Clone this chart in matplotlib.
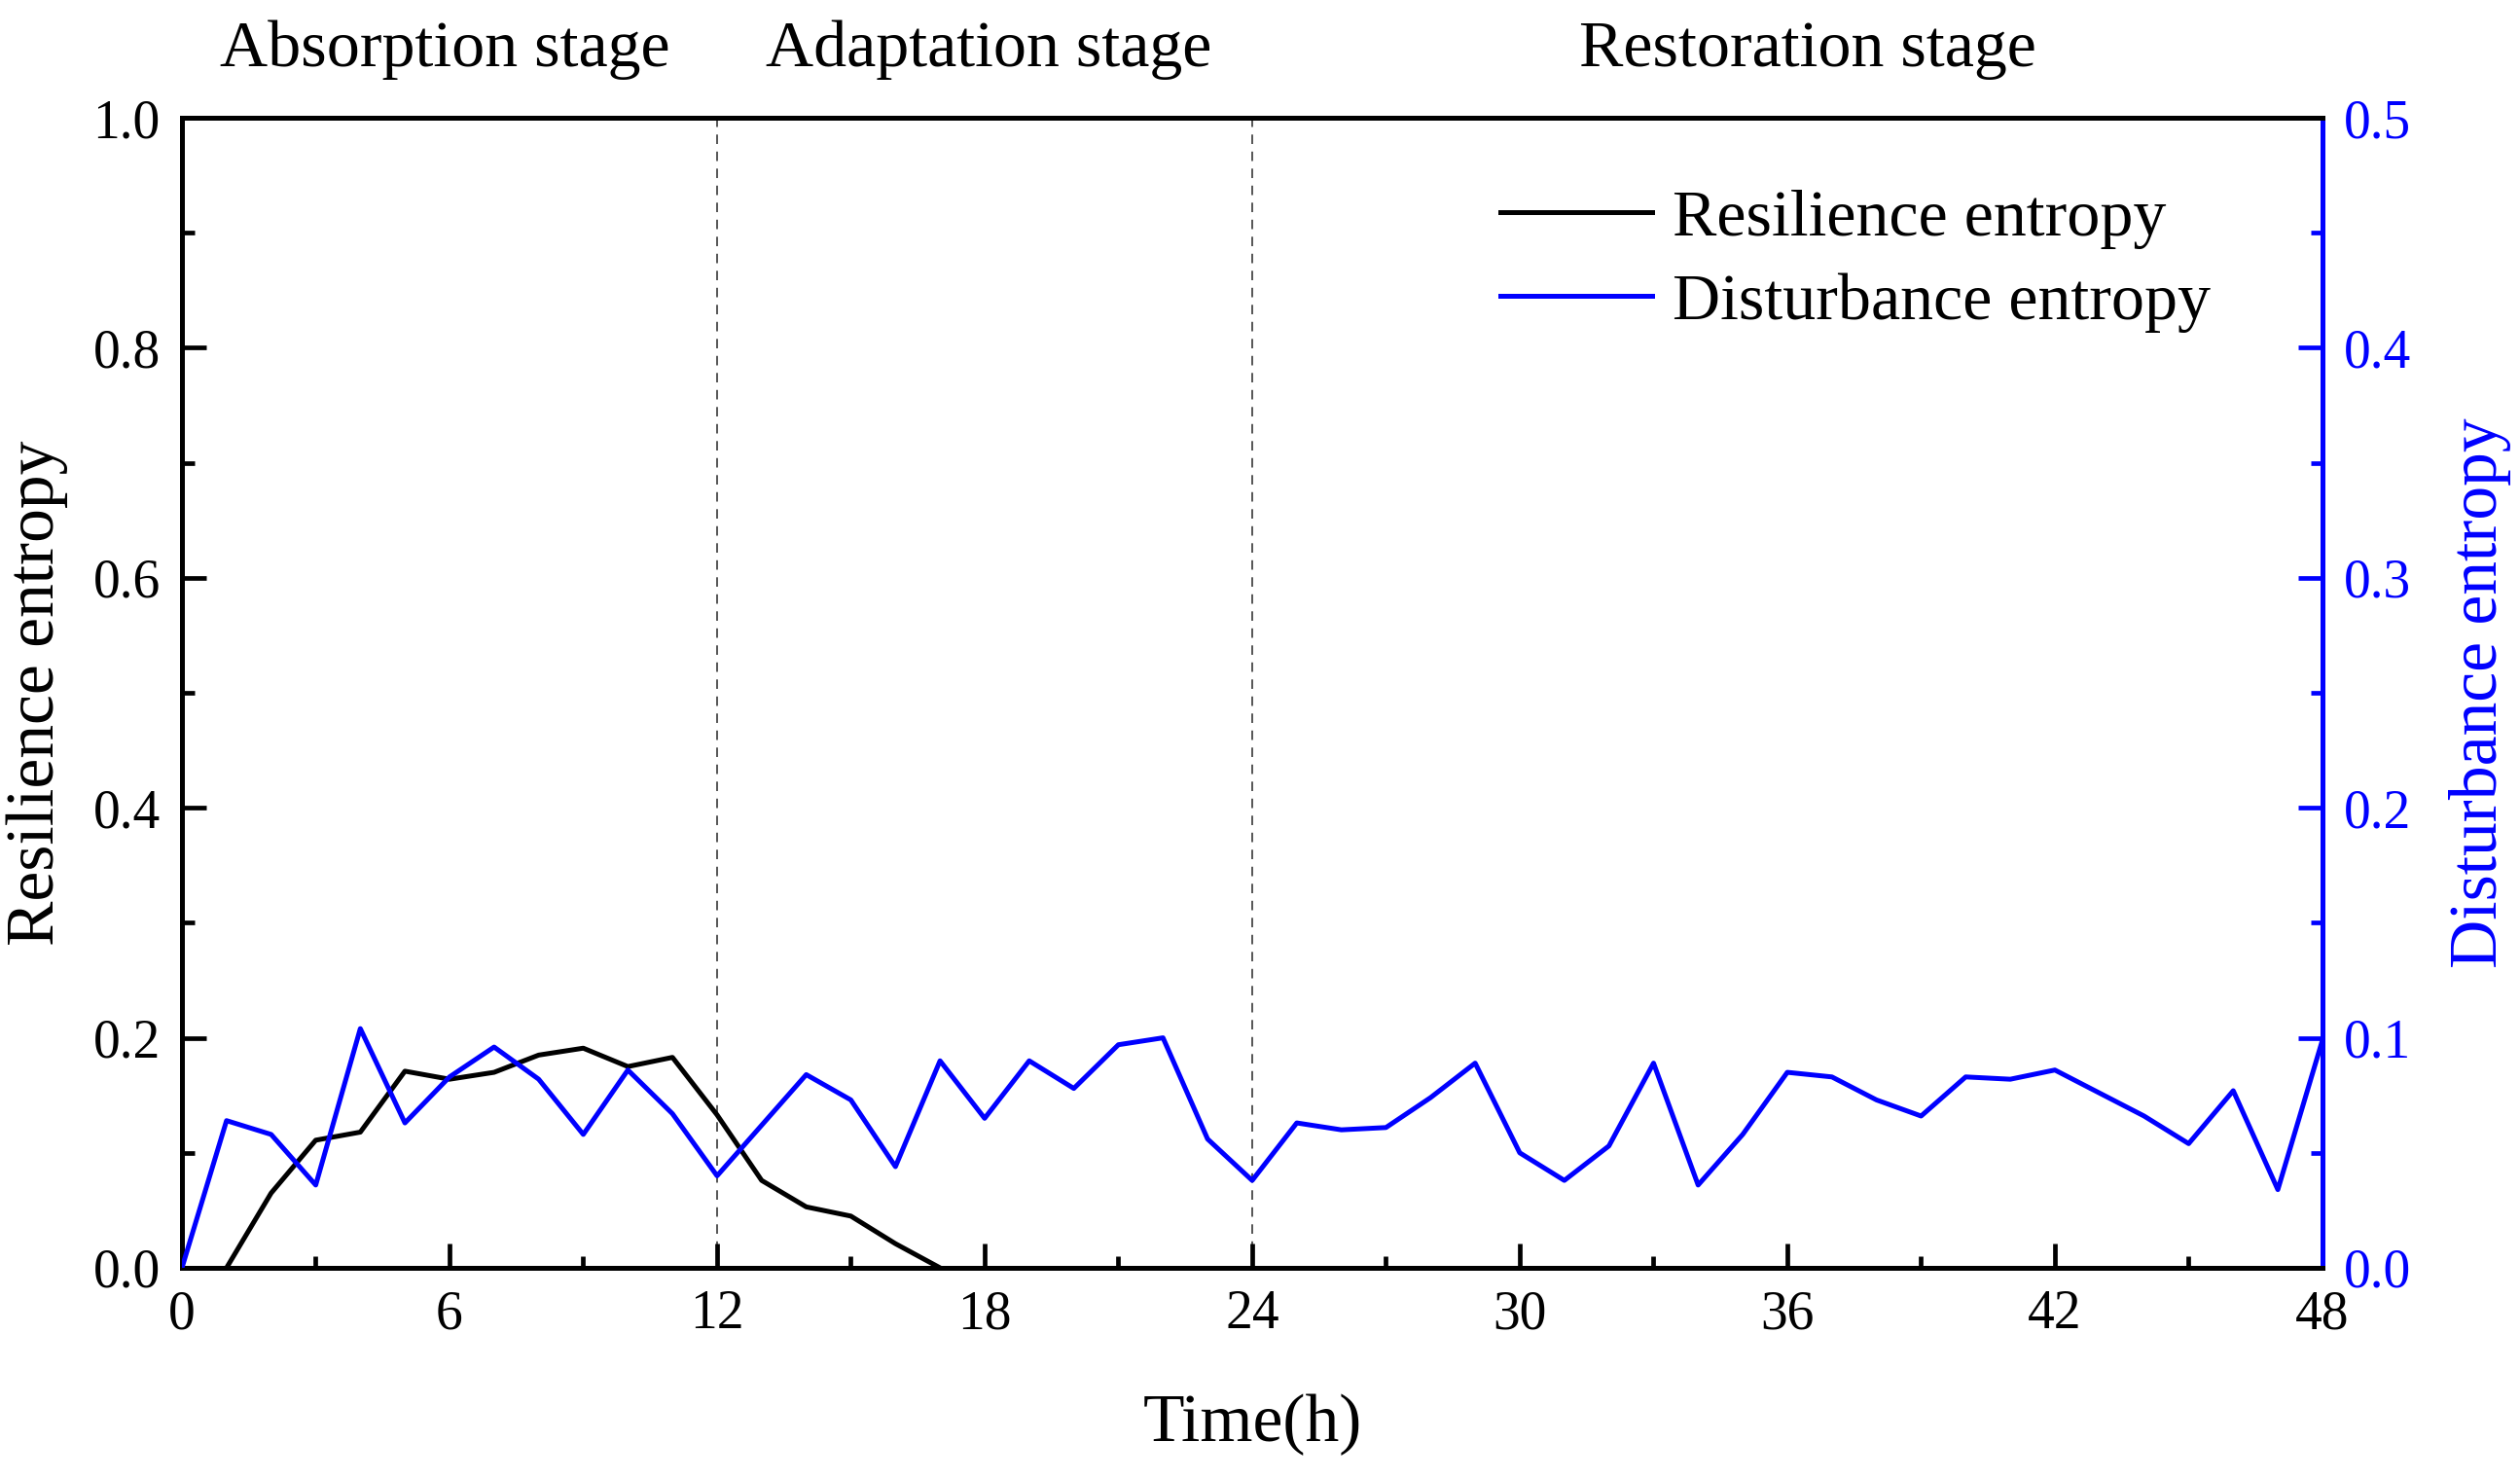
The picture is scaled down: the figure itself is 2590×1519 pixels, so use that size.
import numpy as np
import matplotlib
matplotlib.use("Agg")
import matplotlib.pyplot as plt
from matplotlib.ticker import MultipleLocator

plt.rcParams["font.family"] = ["Liberation Serif", "DejaVu Serif"]

# -----------------------------
# data
# -----------------------------
res_hours = list(range(1, 18))
resilience = [0.0, 0.065, 0.111, 0.118, 0.171, 0.164, 0.170, 0.185, 0.191,
              0.175, 0.183, 0.133, 0.076, 0.053, 0.045, 0.021, 0.0]

dist_hours = list(range(0, 49))
disturbance = [0.0, 0.064, 0.058, 0.036, 0.104, 0.063, 0.083, 0.096, 0.082,
               0.058, 0.086, 0.067, 0.040, 0.062, 0.084, 0.073, 0.044, 0.090,
               0.065, 0.090, 0.078, 0.097, 0.100, 0.056, 0.038, 0.063, 0.060,
               0.061, 0.074, 0.089, 0.050, 0.038, 0.053, 0.089, 0.036, 0.058,
               0.085, 0.083, 0.073, 0.066, 0.083, 0.082, 0.086, 0.076, 0.066,
               0.054, 0.077, 0.034, 0.099]

stage_bounds = [12, 24]
stage_names = ["Absorption stage", "Adaptation stage", "Restoration stage"]
stage_centers = [5.9, 18.1, 36.45]

BLUE = "#0000ff"

fig = plt.figure(figsize=(25.9, 15.19), dpi=100)
ax = fig.add_axes([0.0722, 0.1422, 0.8494, 0.7781])
ax2 = ax.twinx()

# dashed stage separators
for b in stage_bounds:
    ax.axvline(b, color="#555555", lw=1.4, ls=(0, (5, 4)), zorder=1)

l1, = ax.plot(res_hours, resilience, color="black", lw=3.6,
              label="Resilience entropy", zorder=3)
l2, = ax2.plot(dist_hours, disturbance, color=BLUE, lw=3.6,
               label="Disturbance entropy", zorder=3)

#----------------------------------------
# axes
#----------------------------------------
ax.set_xlim(0, 48)
ax.set_ylim(0, 1.0)
ax2.set_ylim(0, 0.5)

ax.xaxis.set_major_locator(MultipleLocator(6))
ax.xaxis.set_minor_locator(MultipleLocator(3))
ax.yaxis.set_major_locator(MultipleLocator(0.2))
ax.yaxis.set_minor_locator(MultipleLocator(0.1))
ax2.yaxis.set_major_locator(MultipleLocator(0.1))
ax2.yaxis.set_minor_locator(MultipleLocator(0.05))

ax.yaxis.set_major_formatter(lambda v, p: f"{v:.1f}")
ax2.yaxis.set_major_formatter(lambda v, p: f"{v:.1f}")

for s in ax.spines.values():
    s.set_linewidth(3.6)
for s in ax2.spines.values():
    s.set_linewidth(3.6)
ax2.spines["right"].set_color(BLUE)

ax.tick_params(axis="both", which="major", direction="in", length=18,
               width=3.4, labelsize=40, pad=16, top=False, right=False)
ax.tick_params(axis="both", which="minor", direction="in", length=9,
               width=3.4, top=False, right=False)
ax2.tick_params(axis="y", which="major", direction="in", length=18,
                width=3.4, labelsize=40, pad=16, colors=BLUE)
ax2.tick_params(axis="y", which="minor", direction="in", length=9,
                width=3.4, colors=BLUE)

ax.set_xlabel("Time(h)", fontsize=50, labelpad=40)
ax.set_ylabel("Resilience entropy", fontsize=50, labelpad=18)
ax2.set_ylabel("Disturbance entropy", fontsize=50, color=BLUE, labelpad=28)

# stage names above the axes
for name, c in zip(stage_names, stage_centers):
    ax.text(c, 1.045, name, transform=ax.get_xaxis_transform(),
            ha="center", va="baseline", fontsize=49)

ax.legend(handles=[l1, l2], loc="upper left",
          bbox_to_anchor=(0.588, 0.99), frameon=False, fontsize=49,
          handlelength=2.3, handletextpad=0.3, labelspacing=0.36)

fig.savefig("out.png", dpi=100)
